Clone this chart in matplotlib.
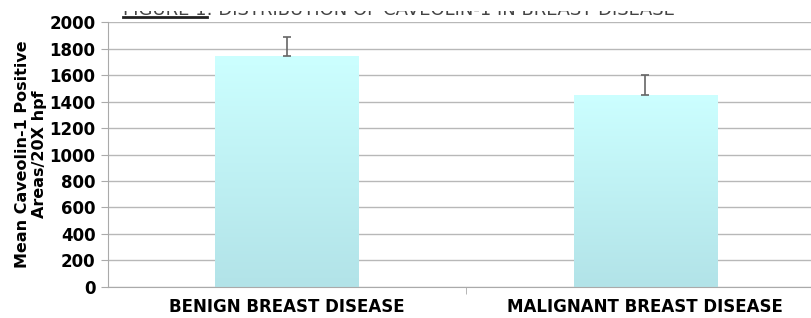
import matplotlib.pyplot as plt
import numpy as np
from matplotlib.lines import Line2D
from matplotlib.patches import Rectangle

groups = ['BENIGN BREAST DISEASE', 'MALIGNANT BREAST DISEASE']
means = [1740, 1450]
err_up = [150, 150]
yticks = [0, 200, 400, 600, 800, 1000, 1200, 1400, 1600, 1800, 2000]

plt.rcParams['font.family'] = ['DejaVu Sans']

fig = plt.figure(figsize=(8.12, 3.18), dpi=100)
ax = fig.add_axes([0.133, 0.0975, 0.882, 0.8333])

x = np.arange(len(groups))
bars = ax.bar(x, means, width=0.4, color='#c4f2f4', zorder=2)
ax.errorbar(x, means, yerr=[[0] * len(err_up), err_up], fmt='none',
            ecolor='#666666', elinewidth=1.2, capsize=3, capthick=1.2, zorder=3)

# vertical gradient inside each bar
grad = np.linspace(0, 1, 256).reshape(-1, 1)
cmap = plt.matplotlib.colors.LinearSegmentedColormap.from_list('cy', ['#b2e3e8', '#ccffff'])
for b in bars:
    im = ax.imshow(grad, cmap=cmap, origin='lower', aspect='auto', zorder=2.5,
                   extent=[b.get_x(), b.get_x() + b.get_width(), 0, b.get_height()])
    im.set_clip_path(b)

ax.set_xlim(-0.5, 1.5)
ax.set_ylim(0, 2000)
ax.set_yticks(yticks)
ax.set_yticklabels([str(v) for v in yticks], fontsize=12, fontweight='bold')
ax.set_xticks(x)
ax.set_xticklabels(groups, fontsize=12, fontweight='bold')
ax.set_xticks([0.5], minor=True)
ax.tick_params(axis='x', which='major', length=0, pad=8)
ax.tick_params(axis='x', which='minor', length=5, color='#aaaaaa')
ax.tick_params(axis='y', length=5, color='#aaaaaa', pad=4)
ax.grid(axis='y', color='#b8b8b8', linewidth=1, zorder=0)
ax.set_axisbelow(True)
for s in ['top', 'right']:
    ax.spines[s].set_visible(False)
for s in ['left', 'bottom']:
    ax.spines[s].set_color('#aaaaaa')

ax.set_ylabel('Mean Caveolin-1 Positive\nAreas/20X hpf', fontsize=11.5,
              fontweight='bold', labelpad=2, linespacing=1.15)

# title: only the lower strip of it shows in the original crop
title = fig.text(0.152, 1 - 15 / 318, 'FIGURE 1: DISTRIBUTION OF CAVEOLIN-1 IN BREAST DISEASE',
                 fontsize=13, color='#444444', va='baseline', ha='left')
clip = Rectangle((0, 1 - 16 / 318), 1, 5.5 / 318, transform=fig.transFigure)
title.set_clip_path(clip)
title.set_clip_on(True)
fig.add_artist(Line2D([0.152, 0.255], [1 - 16.5 / 318, 1 - 16.5 / 318],
                      color='#222222', linewidth=2, transform=fig.transFigure))

fig.savefig('out.png', dpi=100)
